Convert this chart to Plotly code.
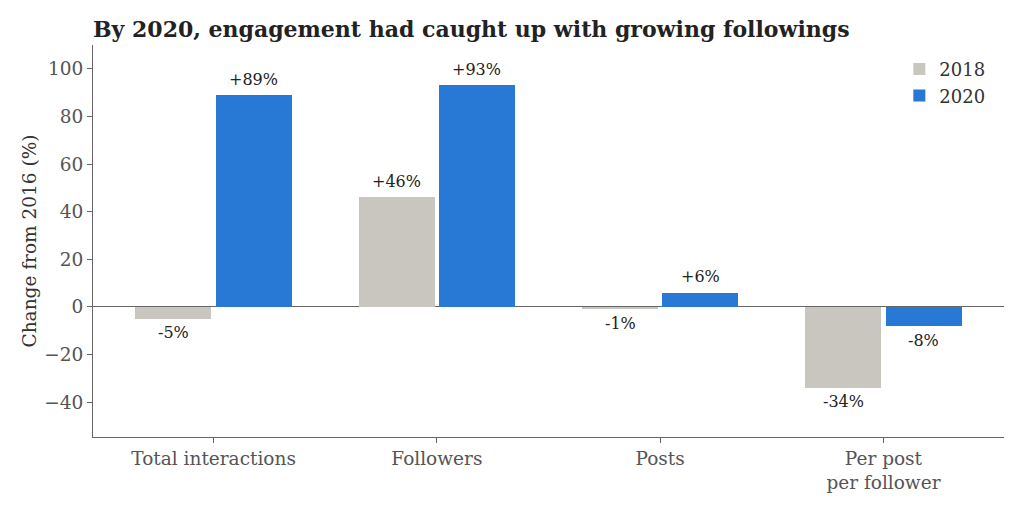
import plotly.graph_objects as go

categories = ["Total interactions", "Followers", "Posts", "Per post<br>per follower"]
series_names = ["2018", "2020"]
values_2018 = [-5, 46, -1, -34]
values_2020 = [89, 93, 6, -8]
labels_2018 = ["-5%", "+46%", "-1%", "-34%"]
labels_2020 = ["+89%", "+93%", "+6%", "-8%"]
y_ticks = [-40, -20, 0, 20, 40, 60, 80, 100]

colors = {"2018": "#c8c6be", "2020": "#2878d6"}
FONT = "DejaVu Serif"

xs = list(range(len(categories)))
fig = go.Figure()
for name, vals, off in [("2018", values_2018, -0.35), ("2020", values_2020, 0.01)]:
    fig.add_trace(go.Bar(
        x=xs, y=vals, name=name, width=0.34, offset=off,
        marker=dict(color=colors[name], line=dict(width=0)),
    ))

annotations = []
for vals, labs, xs_shift in [(values_2018, labels_2018, -40), (values_2020, labels_2020, 40)]:
    for i, (v, lab) in enumerate(zip(vals, labs)):
        annotations.append(dict(
            x=i, y=v, xref="x", yref="y", text=lab, showarrow=False,
            xshift=xs_shift, yshift=16 if v >= 0 else -14, yanchor="middle",
            font=dict(family=FONT, size=16, color="#222222"),
        ))

fig.update_layout(
    width=1024, height=512,
    margin=dict(l=93, r=20, t=45, b=75),
    paper_bgcolor="white", plot_bgcolor="white",
    font=dict(family=FONT, color="#555555"),
    title=dict(text="<b>By 2020, engagement had caught up with growing followings</b>",
               x=93/1024, xanchor="left", y=1-29/512, yanchor="middle",
               font=dict(family=FONT, size=22, color="#222222")),
    showlegend=True,
    legend=dict(x=0.985, xanchor="right", y=0.985, yanchor="top",
                font=dict(family=FONT, size=18, color="#333333"),
                bgcolor="rgba(0,0,0,0)", tracegroupgap=0),
    annotations=annotations,
    bargap=0,
)
fig.update_xaxes(
    range=[-0.54, 3.54], tickmode="array", tickvals=xs, ticktext=categories,
    showline=True, linecolor="#666666", linewidth=1, mirror=False,
    ticks="outside", ticklen=5, tickcolor="#666666", showgrid=False, zeroline=False,
    tickfont=dict(family=FONT, size=18.5, color="#555555"),
)
fig.update_yaxes(
    range=[-54.6, 110], tickmode="array", tickvals=y_ticks,
    showline=True, linecolor="#666666", linewidth=1,
    ticks="outside", ticklen=5, tickcolor="#666666", showgrid=False,
    zeroline=True, zerolinecolor="#666666", zerolinewidth=1,
    tickfont=dict(family=FONT, size=18.5, color="#555555"),
    title=dict(text="Change from 2016 (%)", font=dict(family=FONT, size=18.5, color="#333333"), standoff=2),
)
fig.write_html("out.html")
